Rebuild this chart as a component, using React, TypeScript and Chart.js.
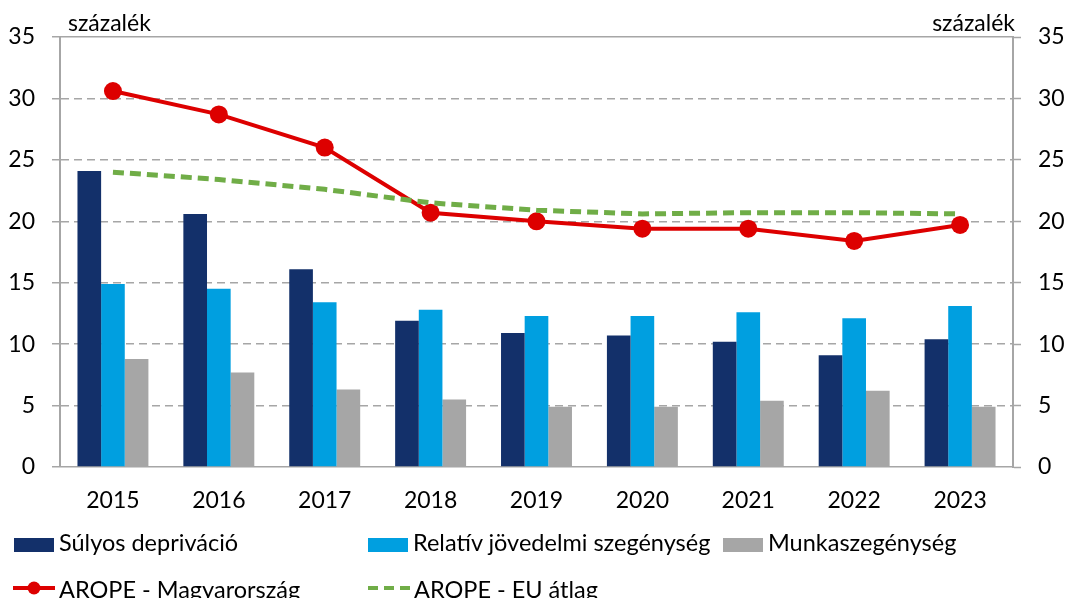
import React, { useEffect, useRef } from 'react';
import { Chart, registerables } from 'chart.js';

Chart.register(...registerables);

const years = ['2015', '2016', '2017', '2018', '2019', '2020', '2021', '2022', '2023'];
const sulyosDepr = [24.1, 20.6, 16.1, 11.9, 10.9, 10.7, 10.2, 9.1, 10.4];
const relativSzeg = [14.9, 14.5, 13.4, 12.8, 12.3, 12.3, 12.6, 12.1, 13.1];
const munkaSzeg = [8.8, 7.7, 6.3, 5.5, 4.9, 4.9, 5.4, 6.2, 4.9];
const aropeHU = [30.6, 28.7, 26.0, 20.7, 20.0, 19.4, 19.4, 18.4, 19.7];
const aropeEU = [24.0, 23.4, 22.6, 21.5, 20.9, 20.6, 20.7, 20.7, 20.6];

const seriesLabels = [
  'Súlyos depriváció',
  'Relatív jövedelmi szegénység',
  'Munkaszegénység',
  'AROPE - Magyarország',
  'AROPE - EU átlag',
];
const unitLabel = 'százalék';
const axisMin = 0;
const axisMax = 35;
const axisStep = 5;

const C_NAVY = '#13306A';
const C_BLUE = '#009FE0';
const C_GRAY = '#A6A6A6';
const C_RED = '#DD0000';
const C_GREEN = '#70AD47';
const C_GRID = '#A6A6A6';
const FONT = 'Lato';
const FS_TICK = 23;
const FS_LEG = 23.5;

export default function App() {
  const ref = useRef<HTMLCanvasElement>(null);

  useEffect(() => {
    document.body.style.margin = '0';
    const solidAt = (ctx: any) =>
      ctx.tick && (ctx.tick.value === axisMin || ctx.tick.value === axisMax) ? [] : [8, 5];
    const tickFont = { family: FONT, size: FS_TICK };
    const chart = new Chart(ref.current as HTMLCanvasElement, {
      type: 'bar',
      data: {
        labels: years,
        datasets: [
          { type: 'bar', label: seriesLabels[0], data: sulyosDepr, backgroundColor: C_NAVY, order: 2, categoryPercentage: 0.67, barPercentage: 1.0 } as any,
          { type: 'bar', label: seriesLabels[1], data: relativSzeg, backgroundColor: C_BLUE, order: 2, categoryPercentage: 0.67, barPercentage: 1.0 } as any,
          { type: 'bar', label: seriesLabels[2], data: munkaSzeg, backgroundColor: C_GRAY, order: 2, categoryPercentage: 0.67, barPercentage: 1.0 } as any,
          {
            type: 'line', label: seriesLabels[3], data: aropeHU, borderColor: C_RED, backgroundColor: C_RED,
            borderWidth: 4, pointRadius: 9, pointBackgroundColor: C_RED, pointBorderWidth: 0, order: 1, tension: 0,
          } as any,
          {
            type: 'line', label: seriesLabels[4], data: aropeEU, borderColor: C_GREEN, borderWidth: 5,
            borderDash: [11, 6], pointRadius: 0, order: 0, tension: 0,
          } as any,
        ],
      },
      options: {
        responsive: false,
        animation: false,
        layout: { padding: { top: 37, left: 0, right: 0, bottom: 0 } },
        plugins: { legend: { display: false }, tooltip: { enabled: false } },
        scales: {
          x: {
            offset: true,
            grid: { display: false },
            border: { display: false },
            ticks: { font: tickFont, color: '#000', padding: 12 },
            afterFit: (s: any) => { s.height = 131; },
          },
          y: {
            position: 'left',
            min: axisMin,
            max: axisMax,
            ticks: { stepSize: axisStep, padding: 17, font: tickFont, color: '#000' },
            grid: { color: C_GRID, lineWidth: 1.5, tickLength: 8, tickColor: C_GRID, tickWidth: 1.5 },
            border: { color: C_GRID, width: 2, dash: solidAt },
            afterFit: (s: any) => { s.width = 60; },
          },
          y2: {
            position: 'right',
            min: axisMin,
            max: axisMax,
            ticks: { stepSize: axisStep, padding: 17, font: tickFont, color: '#000' },
            grid: { drawOnChartArea: false, tickLength: 8, color: C_GRID, tickWidth: 1.5 },
            border: { color: C_GRID, width: 2 },
            afterFit: (s: any) => { s.width = 54; },
          },
        },
      } as any,
    });
    return () => chart.destroy();
  }, []);

  const textStyle = (fs: number): React.CSSProperties => ({
    position: 'absolute',
    fontFamily: FONT,
    fontSize: fs,
    lineHeight: `${fs}px`,
    color: '#000',
    whiteSpace: 'nowrap',
  });

  const barItems = [
    { left: 14, color: C_NAVY, label: seriesLabels[0] },
    { left: 368, color: C_BLUE, label: seriesLabels[1] },
    { left: 723, color: C_GRAY, label: seriesLabels[2] },
  ];

  return (
    <div style={{ position: 'relative', width: 1067, height: 598, overflow: 'hidden', background: '#fff' }}>
      <canvas ref={ref} width={1067} height={598} style={{ position: 'absolute', left: 0, top: 0 }} />
      <div style={{ ...textStyle(FS_TICK), left: 68, top: 11 }}>{unitLabel}</div>
      <div style={{ ...textStyle(FS_TICK), right: 52, top: 11 }}>{unitLabel}</div>

      {barItems.map((it, i) => (
        <React.Fragment key={i}>
          <div style={{ position: 'absolute', left: it.left, top: 538, width: 40, height: 14, background: it.color }} />
          <div style={{ ...textStyle(FS_LEG), left: it.left + 45, top: 531 }}>{it.label}</div>
        </React.Fragment>
      ))}

      <svg style={{ position: 'absolute', left: 13, top: 579 }} width={43} height={18}>
        <line x1={0} y1={9} x2={42} y2={9} stroke={C_RED} strokeWidth={4} />
        <circle cx={21} cy={9} r={6.5} fill={C_RED} />
      </svg>
      <div style={{ ...textStyle(FS_LEG), left: 59, top: 578 }}>{seriesLabels[3]}</div>

      <svg style={{ position: 'absolute', left: 367, top: 579 }} width={44} height={18}>
        <line x1={1} y1={9} x2={43} y2={9} stroke={C_GREEN} strokeWidth={4} strokeDasharray="10 6" />
      </svg>
      <div style={{ ...textStyle(FS_LEG), left: 414, top: 578 }}>{seriesLabels[4]}</div>
    </div>
  );
}
